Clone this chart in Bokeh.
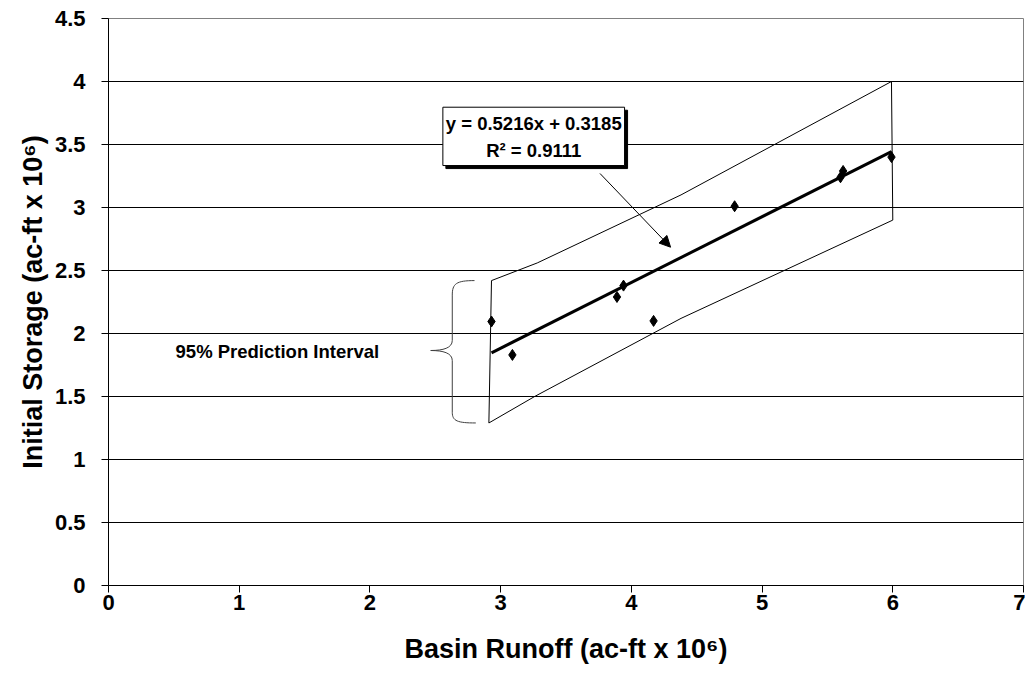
from bokeh.plotting import figure
from bokeh.models import Range1d, Label, Arrow, NormalHead, FixedTicker
from bokeh.embed import file_html
from bokeh.resources import INLINE

# data
runoff = [2.93, 3.09, 3.89, 3.94, 4.17, 4.79, 5.60, 5.62, 5.99]
storage = [2.095, 1.83, 2.29, 2.38, 2.10, 3.01, 3.24, 3.29, 3.40]
slope = 0.5216
intercept = 0.3185
r2 = 0.9111

# prediction interval band (upper and lower edges)
upper_x = [2.93, 3.28, 4.38, 5.99]
upper_y = [2.42, 2.56, 3.10, 4.00]
lower_x = [2.91, 3.26, 4.38, 6.00]
lower_y = [1.29, 1.50, 2.12, 2.90]

x_ticks = [0, 1, 2, 3, 4, 5, 6, 7]
y_ticks = [0, 0.5, 1, 1.5, 2, 2.5, 3, 3.5, 4, 4.5]

FONT = "Liberation Sans"

p = figure(width=1025, height=680, x_range=Range1d(0, 7), y_range=Range1d(0, 4.5),
           output_backend="svg", toolbar_location=None,
           min_border_left=108, min_border_right=2, min_border_top=18, min_border_bottom=95)
p.background_fill_color = "white"
p.border_fill_color = "white"
p.outline_line_color = "#808080"
p.outline_line_width = 1

p.xgrid.visible = False
p.ygrid.grid_line_color = "#000000"
p.ygrid.grid_line_width = 1
p.ygrid.ticker = FixedTicker(ticks=y_ticks)

p.xaxis.ticker = FixedTicker(ticks=x_ticks)
p.yaxis.ticker = FixedTicker(ticks=y_ticks)
p.xaxis.major_label_overrides = {t: str(t) for t in x_ticks}
p.yaxis.major_label_overrides = {t: ("%g" % t) for t in y_ticks}

for ax in (p.xaxis[0], p.yaxis[0]):
    ax.axis_line_color = "black"
    ax.major_tick_line_color = "black"
    ax.major_tick_in = 0
    ax.major_tick_out = 7
    ax.minor_tick_line_color = None
    ax.major_label_text_font = FONT
    ax.major_label_text_font_style = "bold"
    ax.major_label_text_font_size = "22px"
    ax.major_label_text_color = "black"
    ax.axis_label_text_font = FONT
    ax.axis_label_text_font_style = "bold"
    ax.axis_label_text_font_size = "27px"
    ax.axis_label_text_color = "black"

p.xaxis.axis_label = "Basin Runoff (ac-ft x 10\u2076)"
p.yaxis.axis_label = "Initial Storage (ac-ft x 10\u2076)"
p.xaxis.major_label_standoff = 2
p.xaxis.axis_label_standoff = 21
p.yaxis.major_label_standoff = 16
p.yaxis.axis_label_standoff = 4

# prediction interval polygon outline
band_x = upper_x + lower_x[::-1] + [upper_x[0]]
band_y = upper_y + lower_y[::-1] + [upper_y[0]]
p.line(band_x, band_y, line_color="black", line_width=1)

# regression line
x0, x1 = min(runoff), max(runoff)
p.line([x0, x1], [slope * x0 + intercept, slope * x1 + intercept], line_color="black", line_width=3)

# data points
p.scatter(runoff, storage, marker="diamond", size=11, fill_color="black", line_color="black")

# brace
bc = "#404040"
p.bezier(x0=[2.80, 2.63, 2.465, 2.63], y0=[2.42, 1.945, 1.865, 1.375],
         x1=[2.63, 2.465, 2.63, 2.81], y1=[2.305, 1.865, 1.785, 1.29],
         cx0=[2.66, 2.63, 2.56, 2.63], cy0=[2.42, 1.885, 1.865, 1.305],
         cx1=[2.63, 2.56, 2.63, 2.67], cy1=[2.395, 1.865, 1.845, 1.29],
         line_color=bc, line_width=1)
p.segment(x0=[2.63, 2.63], y0=[2.305, 1.785], x1=[2.63, 2.63], y1=[1.945, 1.375],
          line_color=bc, line_width=1)

p.add_layout(Label(x=0.513, y=1.86, text="95% Prediction Interval", text_align="left",
                   text_baseline="middle", text_font=FONT, text_font_style="bold",
                   text_font_size="18.5px", text_color="black"))

# equation box with shadow
p.quad(left=[2.581], right=[3.971], top=[3.772], bottom=[3.309], fill_color="black", line_color="black")
p.quad(left=[2.558], right=[3.948], top=[3.796], bottom=[3.333], fill_color="white", line_color="black", line_width=1)
p.add_layout(Label(x=3.253, y=3.669, text="y = %.4fx + %.4f" % (slope, intercept), text_align="center",
                   text_baseline="middle", text_font=FONT, text_font_style="bold",
                   text_font_size="18.5px", text_color="black"))
p.add_layout(Label(x=3.253, y=3.452, text="R\u00b2 = %.4f" % r2, text_align="center",
                   text_baseline="middle", text_font=FONT, text_font_style="bold",
                   text_font_size="18.5px", text_color="black"))

p.add_layout(Arrow(end=NormalHead(size=11, fill_color="black", line_color="black"),
                   x_start=3.76, y_start=3.27, x_end=4.30, y_end=2.685,
                   line_color="black", line_width=1))

open("out.html", "w").write(file_html(p, INLINE))
